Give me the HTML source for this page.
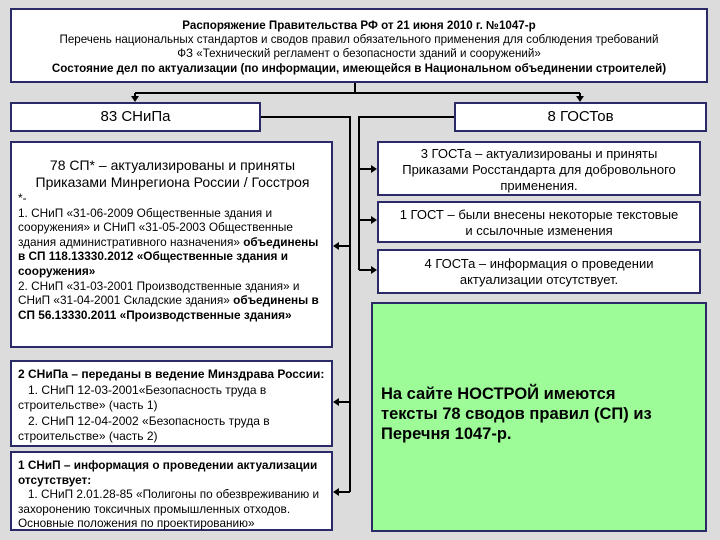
<!DOCTYPE html>
<html><head><meta charset="utf-8"><style>
body{margin:0;width:720px;height:540px;background:#dcdcdc;position:relative;overflow:hidden;font-family:"Liberation Sans","DejaVu Sans",sans-serif;color:#000}
.b{position:absolute;background:#fff;border:2px solid #2a2a66;box-sizing:border-box;white-space:nowrap}
.c{text-align:center}
svg{position:absolute;left:0;top:0}
</style></head><body>
<div class="b c" style="left:10px;top:8px;width:698px;height:75px;font-size:11.6px;line-height:14.2px;padding-top:9px">
<b>Распоряжение Правительства РФ от 21 июня 2010 г. №1047-р</b><br>
Перечень национальных стандартов и сводов правил обязательного применения для соблюдения требований<br>
ФЗ «Технический регламент о безопасности зданий и сооружений»<br>
<b>Состояние дел по актуализации (по информации, имеющейся в Национальном объединении строителей)</b>
</div>
<div class="b c" style="left:10px;top:102px;width:251px;height:30px;font-size:15px;line-height:26px">83 СНиПа</div>
<div class="b c" style="left:454px;top:102px;width:253px;height:30px;font-size:15px;line-height:26px">8 ГОСТов</div>

<div class="b" style="left:10px;top:141px;width:323px;height:207px;padding:14px 4px 0 6px;font-size:11.8px;line-height:14.6px">
<div class="c" style="font-size:14px;line-height:17px">78 СП* – актуализированы и приняты<br>Приказами Минрегиона России / Госстроя</div>
<div>*-</div>
1. СНиП «31-06-2009 Общественные здания и<br>сооружения» и СНиП «31-05-2003 Общественные<br>здания административного назначения» <b>объединены</b><br><b>в СП 118.13330.2012 «Общественные здания и<br>сооружения»</b><br>
2. СНиП «31-03-2001 Производственные здания» и<br>СНиП «31-04-2001 Складские здания» <b>объединены в<br>СП 56.13330.2011 «Производственные здания»</b>
</div>
<div class="b" style="left:10px;top:360px;width:323px;height:87px;padding:5px 4px 0 6px;font-size:12px;line-height:15.5px">
<b>2 СНиПа – переданы в ведение Минздрава России:</b><br>
&nbsp;&nbsp;&nbsp;1. СНиП 12-03-2001«Безопасность труда в<br>строительстве» (часть 1)<br>
&nbsp;&nbsp;&nbsp;2. СНиП 12-04-2002 «Безопасность труда в<br>строительстве» (часть 2)
</div>
<div class="b" style="left:10px;top:451px;width:323px;height:80px;padding:5px 4px 0 6px;font-size:11.8px;line-height:14.5px">
<b>1 СНиП – информация о проведении актуализации<br>отсутствует:</b><br>
&nbsp;&nbsp;&nbsp;1. СНиП 2.01.28-85 «Полигоны по обезвреживанию и<br>захоронению токсичных промышленных отходов.<br>Основные положения по проектированию»
</div>

<div class="b c" style="left:377px;top:141px;width:324px;height:55px;font-size:13px;line-height:16px;padding-top:3px">3 ГОСТа – актуализированы и приняты<br>Приказами Росстандарта для добровольного<br>применения.</div>
<div class="b c" style="left:377px;top:201px;width:324px;height:42px;font-size:13px;line-height:16px;padding-top:4px">1 ГОСТ – были внесены некоторые текстовые<br>и ссылочные изменения</div>
<div class="b c" style="left:377px;top:249px;width:324px;height:45px;font-size:13px;line-height:16px;padding-top:5px">4 ГОСТа – информация о проведении<br>актуализации отсутствует.</div>

<div class="b" style="left:371px;top:302px;width:336px;height:230px;background:#9dfc98;padding:80px 8px 0 8px;font-size:16.5px;line-height:20px;font-weight:bold">На сайте НОСТРОЙ имеются<br>тексты 78 сводов правил (СП) из<br>Перечня 1047-р.</div>

<svg width="720" height="540">
<g stroke="#000" stroke-width="2" fill="none">
<path d="M355 83V93M135 93H580M135 93V98M580 93V98"/>
<path d="M261 117H350V492M350 246H338M350 402H338M350 492H338"/>
<path d="M454 117H359V270M359 169H372M359 220H372M359 270H372"/>
</g>
<g fill="#000">
<path d="M131 96h8l-4 6z"/><path d="M576 96h8l-4 6z"/>
<path d="M333 246l6-4v8z"/><path d="M333 402l6-4v8z"/><path d="M333 492l6-4v8z"/>
<path d="M377 169l-6-4v8z"/><path d="M377 220l-6-4v8z"/><path d="M377 270l-6-4v8z"/>
</g>
</svg>
</body></html>
